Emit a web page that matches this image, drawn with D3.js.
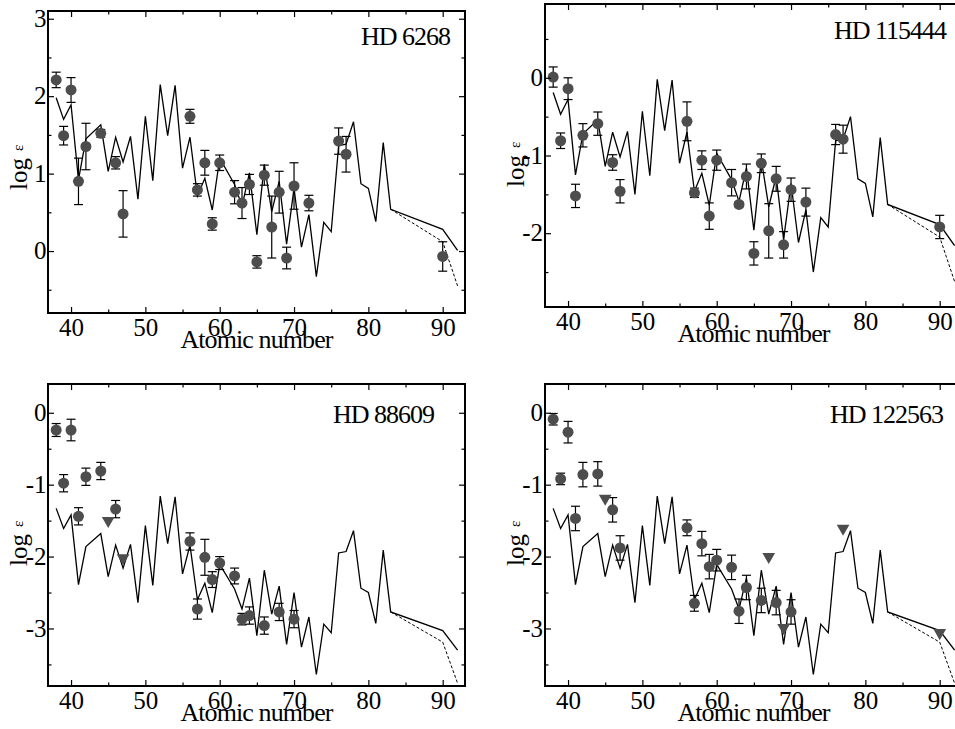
<!DOCTYPE html>
<html>
<head>
<meta charset="utf-8">
<script src="https://cdn.jsdelivr.net/npm/d3@7"></script>
<style>
  body { margin: 0; background: #fff; }
  text { font-family: "Liberation Serif", "Times New Roman", serif; fill: #000; }
</style>
</head>
<body>
<div id="chart"></div>
<script>
// scaled solar r-process curve (values as plotted for HD 88609)
var solarZ = [38,39,40,41,42,44,45,46,47,48,49,50,51,52,53,54,55,56,57,58,59,60,62,63,64,65,66,67,68,69,70,71,72,73,74,75,76,77,78,79,80,81,82,83,90,92];
var solarEps = [-1.33,-1.61,-1.42,-2.39,-1.86,-1.68,-2.28,-1.84,-2.16,-1.83,-2.64,-1.57,-2.40,-1.16,-1.82,-1.17,-2.24,-1.84,-2.60,-2.37,-2.78,-2.11,-2.45,-2.73,-2.30,-3.10,-2.19,-2.80,-2.41,-3.22,-2.50,-3.26,-2.84,-3.64,-2.94,-3.06,-1.95,-1.93,-1.64,-2.44,-2.50,-2.93,-1.91,-2.77,-3.03,-3.30];
// alternative Th/U tail (dashed)
var tailZ = [83,90,92];
var tailEps = [-2.77,-3.19,-3.76];

var starNames = ["HD 6268", "HD 115444", "HD 88609", "HD 122563"];
var solarShift = [3.31, 1.14, 0, 0];

var hd6268Z   = [38,39,40,41,42,44,46,47,56,57,58,59,60,62,63,64,65,66,67,68,69,70,72,76,77,90];
var hd6268Eps = [2.21,1.49,2.08,0.90,1.35,1.52,1.14,0.48,1.74,0.79,1.14,0.35,1.14,0.76,0.62,0.86,-0.14,0.98,0.31,0.76,-0.09,0.84,0.62,1.42,1.25,-0.07];
var hd6268Err = [0.10,0.12,0.16,0.30,0.30,0.05,0.08,0.30,0.09,0.08,0.16,0.08,0.10,0.15,0.20,0.13,0.08,0.13,0.40,0.27,0.14,0.30,0.10,0.17,0.23,0.19];

var hd115444Z   = [38,39,40,41,42,44,46,47,56,57,58,59,60,62,63,64,65,66,67,68,69,70,72,76,77,90];
var hd115444Eps = [0.01,-0.81,-0.14,-1.52,-0.74,-0.59,-1.09,-1.46,-0.56,-1.48,-1.06,-1.78,-1.06,-1.35,-1.63,-1.27,-2.26,-1.10,-1.97,-1.30,-2.15,-1.44,-1.60,-0.73,-0.79,-1.92];
var hd115444Err = [0.13,0.10,0.14,0.15,0.15,0.15,0.10,0.15,0.25,0.06,0.12,0.17,0.13,0.17,0.03,0.16,0.15,0.12,0.35,0.16,0.17,0.15,0.18,0.13,0.18,0.15];

var hd88609Z   = [38,39,40,41,42,44,46,56,57,58,59,60,62,63,64,66,68,70];
var hd88609Eps = [-0.24,-0.98,-0.24,-1.44,-0.89,-0.81,-1.34,-1.79,-2.73,-2.01,-2.32,-2.09,-2.27,-2.87,-2.82,-2.96,-2.77,-2.87];
var hd88609Err = [0.09,0.12,0.15,0.12,0.12,0.12,0.12,0.12,0.14,0.25,0.11,0.09,0.11,0.08,0.12,0.12,0.12,0.12];
var hd88609LimZ   = [45,47];
var hd88609LimEps = [-1.50,-2.02];

var hd122563Z   = [38,39,40,41,42,44,46,47,56,57,58,59,60,62,63,64,66,68,70];
var hd122563Eps = [-0.09,-0.92,-0.27,-1.47,-0.86,-0.85,-1.35,-1.88,-1.60,-2.65,-1.82,-2.14,-2.05,-2.15,-2.76,-2.43,-2.61,-2.64,-2.77];
var hd122563Err = [0.08,0.08,0.15,0.17,0.17,0.17,0.17,0.17,0.11,0.11,0.17,0.17,0.15,0.17,0.17,0.17,0.17,0.17,0.17];
var hd122563LimZ   = [45,67,69,77,90];
var hd122563LimEps = [-1.19,-2.00,-2.99,-1.61,-3.06];

var xTicks = [40,50,60,70,80,90];
var xMinor = [45,55,65,75,85];

var panels = [
  {left: 48,  top: 11,  h: 302, yDom: [-0.8, 3.1],   yTicks: [0,1,2,3],     yMinor: [-0.5,0.5,1.5,2.5],
   z: hd6268Z, eps: hd6268Eps, err: hd6268Err, limZ: [], limEps: [], labX: 450, labY: 45, logY: 190},
  {left: 545, top: 4,   h: 303, yDom: [-2.95, 0.95], yTicks: [-2,-1,0],    yMinor: [-2.5,-1.5,-0.5,0.5],
   z: hd115444Z, eps: hd115444Eps, err: hd115444Err, limZ: [], limEps: [], labX: 946, labY: 39, logY: 187},
  {left: 48,  top: 384, h: 302, yDom: [-3.8, 0.4],   yTicks: [-3,-2,-1,0], yMinor: [-3.5,-2.5,-1.5,-0.5],
   z: hd88609Z, eps: hd88609Eps, err: hd88609Err, limZ: hd88609LimZ, limEps: hd88609LimEps, labX: 434, labY: 423, logY: 566},
  {left: 545, top: 384, h: 302, yDom: [-3.8, 0.4],   yTicks: [-3,-2,-1,0], yMinor: [-3.5,-2.5,-1.5,-0.5],
   z: hd122563Z, eps: hd122563Eps, err: hd122563Err, limZ: hd122563LimZ, limEps: hd122563LimEps, labX: 943, labY: 423, logY: 566}
];
var panelW = 417;

var svg = d3.select("#chart").append("svg").attr("width", 955).attr("height", 729);

panels.forEach(function(p, i) {
  var x = d3.scaleLinear().domain([36.9, 93]).range([0, panelW]);
  var y = d3.scaleLinear().domain(p.yDom).range([p.h, 0]);
  var g = svg.append("g").attr("transform", "translate(" + p.left + "," + p.top + ")");

  // solar curve
  var line = d3.line().x(function(d) { return x(d[0]); }).y(function(d) { return y(d[1] + solarShift[i]); });
  g.append("path").datum(d3.zip(solarZ, solarEps)).attr("d", line)
    .style("fill", "none").style("stroke", "#000").style("stroke-width", 1.3);
  g.append("path").datum(d3.zip(tailZ, tailEps)).attr("d", line)
    .style("fill", "none").style("stroke", "#000").style("stroke-width", 1).style("stroke-dasharray", "3,2");

  // error bars
  var pts = d3.range(p.z.length).map(function(k) { return {z: p.z[k], v: p.eps[k], e: p.err[k]}; });
  var eb = g.selectAll("g.ebar").data(pts).enter().append("g").attr("class", "ebar")
    .style("stroke", "#000").style("stroke-width", 1.2);
  eb.append("line").attr("x1", function(d) { return x(d.z); }).attr("x2", function(d) { return x(d.z); })
    .attr("y1", function(d) { return y(d.v + d.e); }).attr("y2", function(d) { return y(d.v - d.e); });
  eb.append("line").attr("x1", function(d) { return x(d.z) - 4.5; }).attr("x2", function(d) { return x(d.z) + 4.5; })
    .attr("y1", function(d) { return y(d.v + d.e); }).attr("y2", function(d) { return y(d.v + d.e); });
  eb.append("line").attr("x1", function(d) { return x(d.z) - 4.5; }).attr("x2", function(d) { return x(d.z) + 4.5; })
    .attr("y1", function(d) { return y(d.v - d.e); }).attr("y2", function(d) { return y(d.v - d.e); });

  g.selectAll("circle.pt").data(pts).enter().append("circle").attr("class", "pt")
    .attr("cx", function(d) { return x(d.z); }).attr("cy", function(d) { return y(d.v); })
    .attr("r", 5.5).style("fill", "#4d4d4d");

  // upper limits
  g.selectAll("path.lim").data(d3.zip(p.limZ, p.limEps)).enter().append("path").attr("class", "lim")
    .attr("d", d3.symbol().type(d3.symbolTriangle).size(70))
    .attr("transform", function(d) { return "translate(" + x(d[0]) + "," + y(d[1]) + ") rotate(180)"; })
    .style("fill", "#4d4d4d");

  // axes: inward ticks
  var fmt = function(d) { return String(d); };
  var bx = g.append("g").attr("transform", "translate(0," + p.h + ")")
    .call(d3.axisBottom(x).tickValues(xTicks).tickFormat(fmt).tickSizeInner(-6).tickSizeOuter(0).tickPadding(5));
  g.append("g").attr("transform", "translate(0," + p.h + ")")
    .call(d3.axisBottom(x).tickValues(xMinor).tickFormat("").tickSizeInner(-3.5).tickSizeOuter(0));
  g.append("g").call(d3.axisTop(x).tickValues(xTicks).tickFormat("").tickSizeInner(-6).tickSizeOuter(0));
  g.append("g").call(d3.axisTop(x).tickValues(xMinor).tickFormat("").tickSizeInner(-3.5).tickSizeOuter(0));
  var ly = g.append("g")
    .call(d3.axisLeft(y).tickValues(p.yTicks).tickFormat(fmt).tickSizeInner(-6).tickSizeOuter(0).tickPadding(i % 2 ? 2 : 1.5));
  g.append("g").call(d3.axisLeft(y).tickValues(p.yMinor).tickFormat("").tickSizeInner(-3.5).tickSizeOuter(0));
  g.append("g").attr("transform", "translate(" + panelW + ",0)")
    .call(d3.axisRight(y).tickValues(p.yTicks).tickFormat("").tickSizeInner(-6).tickSizeOuter(0));
  g.append("g").attr("transform", "translate(" + panelW + ",0)")
    .call(d3.axisRight(y).tickValues(p.yMinor).tickFormat("").tickSizeInner(-3.5).tickSizeOuter(0));
  g.selectAll(".domain").remove();
  g.selectAll(".tick line").style("stroke", "#000").style("stroke-width", 1.2);
  bx.selectAll("text").style("font-size", "25px").style("font-family", "Liberation Serif").attr("dy", "0.71em");
  ly.selectAll("text").style("font-size", "25px").style("font-family", "Liberation Serif").attr("dy", "0.31em");

  g.append("rect").attr("x", 0).attr("y", 0).attr("width", panelW).attr("height", p.h)
    .style("fill", "none").style("stroke", "#000").style("stroke-width", 2);

  // labels
  g.append("text").attr("x", panelW / 2).attr("y", p.h + 35).attr("text-anchor", "middle")
    .style("font-size", "26px").style("letter-spacing", "-0.9px").text("Atomic number");
  svg.append("text").attr("x", p.labX).attr("y", p.labY).attr("text-anchor", "end")
    .style("font-size", "26px").style("letter-spacing", "-1px").text(starNames[i]);
  var yl = svg.append("text").attr("transform", "translate(" + (p.left - 21) + "," + p.logY + ") rotate(-90)")
    .style("font-size", "25px");
  yl.append("tspan").text("log");
  yl.append("tspan").attr("dx", 7).attr("dy", -4).style("font-size", "15px").text("ε");
});
</script>
</body>
</html>
